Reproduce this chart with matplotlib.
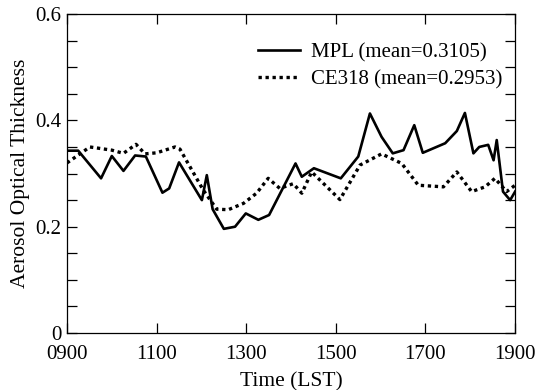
import matplotlib
matplotlib.use("Agg")
import matplotlib.pyplot as plt
from matplotlib.ticker import MultipleLocator

plt.rcParams["font.family"] = ["Liberation Serif", "DejaVu Serif"]

# tiempo en horas decimales (LST)
mpl_time = [9.0, 9.25, 9.76, 10.0, 10.26, 10.52, 10.76, 11.13, 11.28, 11.5,
            12.01, 12.12, 12.25, 12.5, 12.75, 12.99, 13.27, 13.51, 14.1, 14.24,
            14.51, 15.11, 15.5, 15.76, 16.02, 16.27, 16.51, 16.75, 16.94, 17.44,
            17.7, 17.88, 18.07, 18.2, 18.4, 18.52, 18.59, 18.73, 18.89, 19.0]
mpl_aot = [0.343, 0.343, 0.291, 0.333, 0.305, 0.334, 0.332, 0.264, 0.272, 0.321,
           0.250, 0.297, 0.233, 0.196, 0.200, 0.225, 0.213, 0.222, 0.319, 0.294,
           0.310, 0.291, 0.332, 0.413, 0.369, 0.338, 0.344, 0.391, 0.339, 0.357,
           0.380, 0.414, 0.338, 0.350, 0.354, 0.325, 0.363, 0.266, 0.250, 0.266]

ce_time = [9.0, 9.51, 10.0, 10.26, 10.54, 10.74, 11.0, 11.41, 11.52, 12.04,
           12.34, 12.6, 12.94, 13.23, 13.49, 13.75, 14.05, 14.24, 14.46, 14.8,
           15.09, 15.54, 16.02, 16.47, 16.84, 17.4, 17.7, 18.03, 18.33, 18.55,
           18.81, 19.0]
ce_aot = [0.320, 0.350, 0.344, 0.338, 0.355, 0.337, 0.339, 0.350, 0.346, 0.269,
          0.233, 0.232, 0.244, 0.263, 0.291, 0.272, 0.281, 0.263, 0.303, 0.275,
          0.251, 0.316, 0.337, 0.319, 0.278, 0.275, 0.303, 0.266, 0.275, 0.291,
          0.266, 0.278]

x_ticks = [9, 11, 13, 15, 17, 19]
x_labels = ["0900", "1100", "1300", "1500", "1700", "1900"]
y_ticks = [0, 0.2, 0.4, 0.6]
y_labels = ["0", "0.2", "0.4", "0.6"]

fig = plt.figure(figsize=(5.36, 3.9), dpi=100)
ax = fig.add_axes([0.125, 0.146, 0.836, 0.818])

ax.plot(mpl_time, mpl_aot, color="black", lw=1.9, ls="-",
        label="MPL (mean=0.3105)")
ax.plot(ce_time, ce_aot, color="black", lw=2.4, ls=(0, (1, 1.1)),
        label="CE318 (mean=0.2953)")

ax.set_xlim(9, 19)
ax.set_ylim(0, 0.6)
ax.set_xticks(x_ticks)
ax.set_xticklabels(x_labels)
ax.set_yticks(y_ticks)
ax.set_yticklabels(y_labels)
ax.yaxis.set_minor_locator(MultipleLocator(0.05))

ax.tick_params(which="both", direction="in", top=True, right=True,
               labelsize=15, length=7, width=0.9)
ax.tick_params(axis="x", pad=8.5)
ax.tick_params(axis="y", pad=4)
for s in ax.spines.values():
    s.set_linewidth(0.9)

ax.set_xlabel("Time (LST)", fontsize=15.5, labelpad=6)
ax.set_ylabel("Aerosol Optical Thickness", fontsize=15.5, labelpad=4)

ax.legend(loc="upper right", bbox_to_anchor=(0.972, 0.91), frameon=False,
          fontsize=15, handlelength=2.0, handletextpad=0.55,
          labelspacing=0.35, borderaxespad=0, borderpad=0)

fig.savefig("out.png", dpi=100)
